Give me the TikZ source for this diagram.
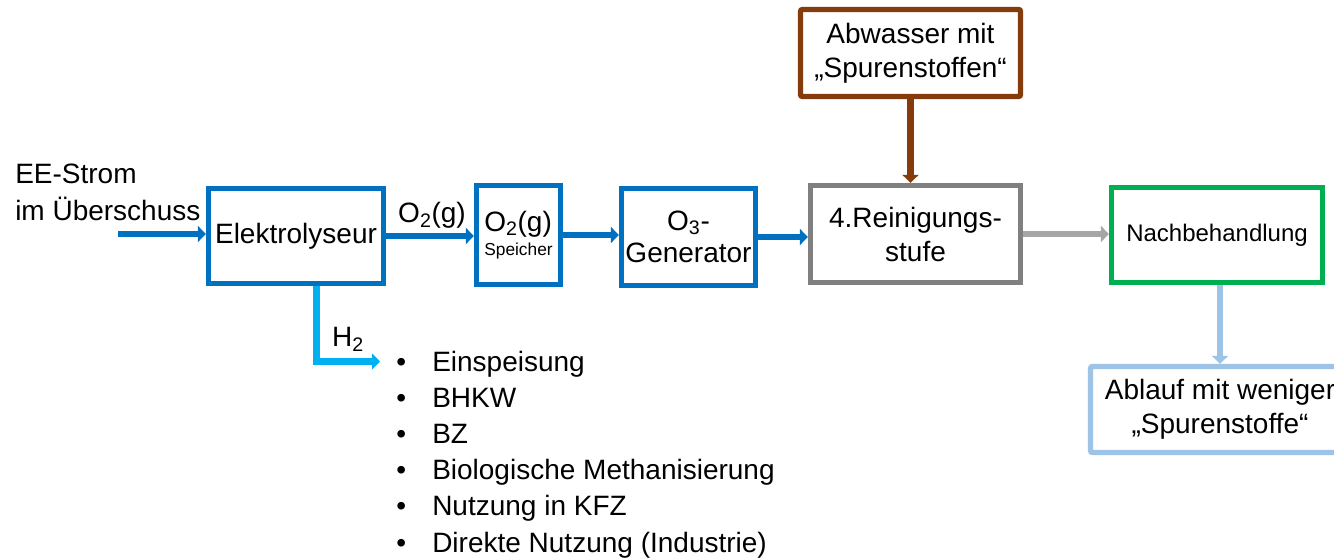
\documentclass[tikz,border=0pt]{standalone}
\usepackage{fontspec}
\setmainfont{Liberation Sans}
\usetikzlibrary{arrows.meta}
\definecolor{eblue}{RGB}{0,112,192}
\definecolor{hcyan}{RGB}{0,176,240}
\definecolor{rgray}{RGB}{128,128,128}
\definecolor{agray}{RGB}{166,166,166}
\definecolor{abbrown}{RGB}{132,60,12}
\definecolor{ngreen}{RGB}{0,176,80}
\definecolor{lblue}{RGB}{157,195,230}
\tikzset{
  box/.style={draw, line width=4pt, fill=white, align=center, inner sep=2pt,
    font=\fontsize{21}{25.5}\selectfont},
  flow/.style={line width=5pt, -{Triangle[length=6pt,width=12pt]}},
  txt/.style={inner sep=0pt, font=\fontsize{21}{27.75}\selectfont},
}
\begin{document}
\begin{tikzpicture}[x=0.75pt,y=-0.75pt]
\path[use as bounding box] (0,0) rectangle (1334,559);
\clip (0,0) rectangle (1334,559);

% boxes
\node[box, draw=eblue, minimum width=131.25pt, minimum height=71.25pt] (E) at (296,236) {Elektrolyseur};
\node[box, draw=eblue, minimum width=63pt, minimum height=74.25pt, align=left] (S) at (518.5,235)
  {O\textsubscript{2}(g)\\[-7pt]{\fontsize{13}{15}\selectfont Speicher}};
\node[box, draw=eblue, minimum width=100.5pt, minimum height=72.75pt, font=\fontsize{21}{24}\selectfont] (G) at (688.5,237)
  {O\textsubscript{3}-\\Generator};
\node[box, draw=rgray, minimum width=157.5pt, minimum height=72.75pt] (R) at (915.5,234)
  {4.Reinigungs-\\stufe};
\node[box, draw=abbrown, rounded corners=1.5pt, minimum width=165pt, minimum height=65.25pt] (A) at (910.5,53)
  {Abwasser mit\\„Spurenstoffen“};
\node[box, draw=ngreen, minimum width=158.25pt, minimum height=71.25pt, font=\fontsize{18}{22}\selectfont] (N) at (1217,235)
  {Nachbehandlung};
\node[box, draw=lblue, rounded corners=1.5pt, minimum width=194.25pt, minimum height=64.5pt] (L) at (1220,409.5)
  {Ablauf mit weniger\\„Spurenstoffe“};

% labels
\node[txt, anchor=north west, align=left] (ee) at (15,164) {EE-Strom\\im Überschuss};
\node[txt, anchor=base] (o2) at (432,223) {O\textsubscript{2}(g)};
\node[txt, anchor=base] (h2) at (348,347) {H\textsubscript{2}};

% list
\foreach \t [count=\i from 0] in {Einspeisung,BHKW,BZ,Biologische Methanisierung,Nutzung in KFZ,Direkte Nutzung (Industrie)}{
  \node[txt, anchor=base west] (li\i) at (396,371+36.2*\i) {\makebox[27pt][l]{•}\t};
}

% coordinates
\coordinate (in) at (118,234);
\coordinate (hc) at (316.5,361.5);
\coordinate (he) at (380,361.5);

% connectors
\draw[flow, eblue] (in) -- (in -| E.west);
\draw[flow, eblue] (E.east) -- (S.west |- E.east);
\draw[flow, eblue] (S.east) -- (G.west |- S.east);
\draw[flow, eblue] (G.east) -- (R.west |- G.east);
\draw[flow, agray] (R.east) -- (N.west |- R.east);
\draw[flow, abbrown] (A.south) -- (R.north -| A.south);
\draw[flow, lblue] (N.south -| L.north) -- (L.north);
\draw[flow, hcyan] (E.south -| hc) -- (hc) -- (he);
\end{tikzpicture}
\end{document}
